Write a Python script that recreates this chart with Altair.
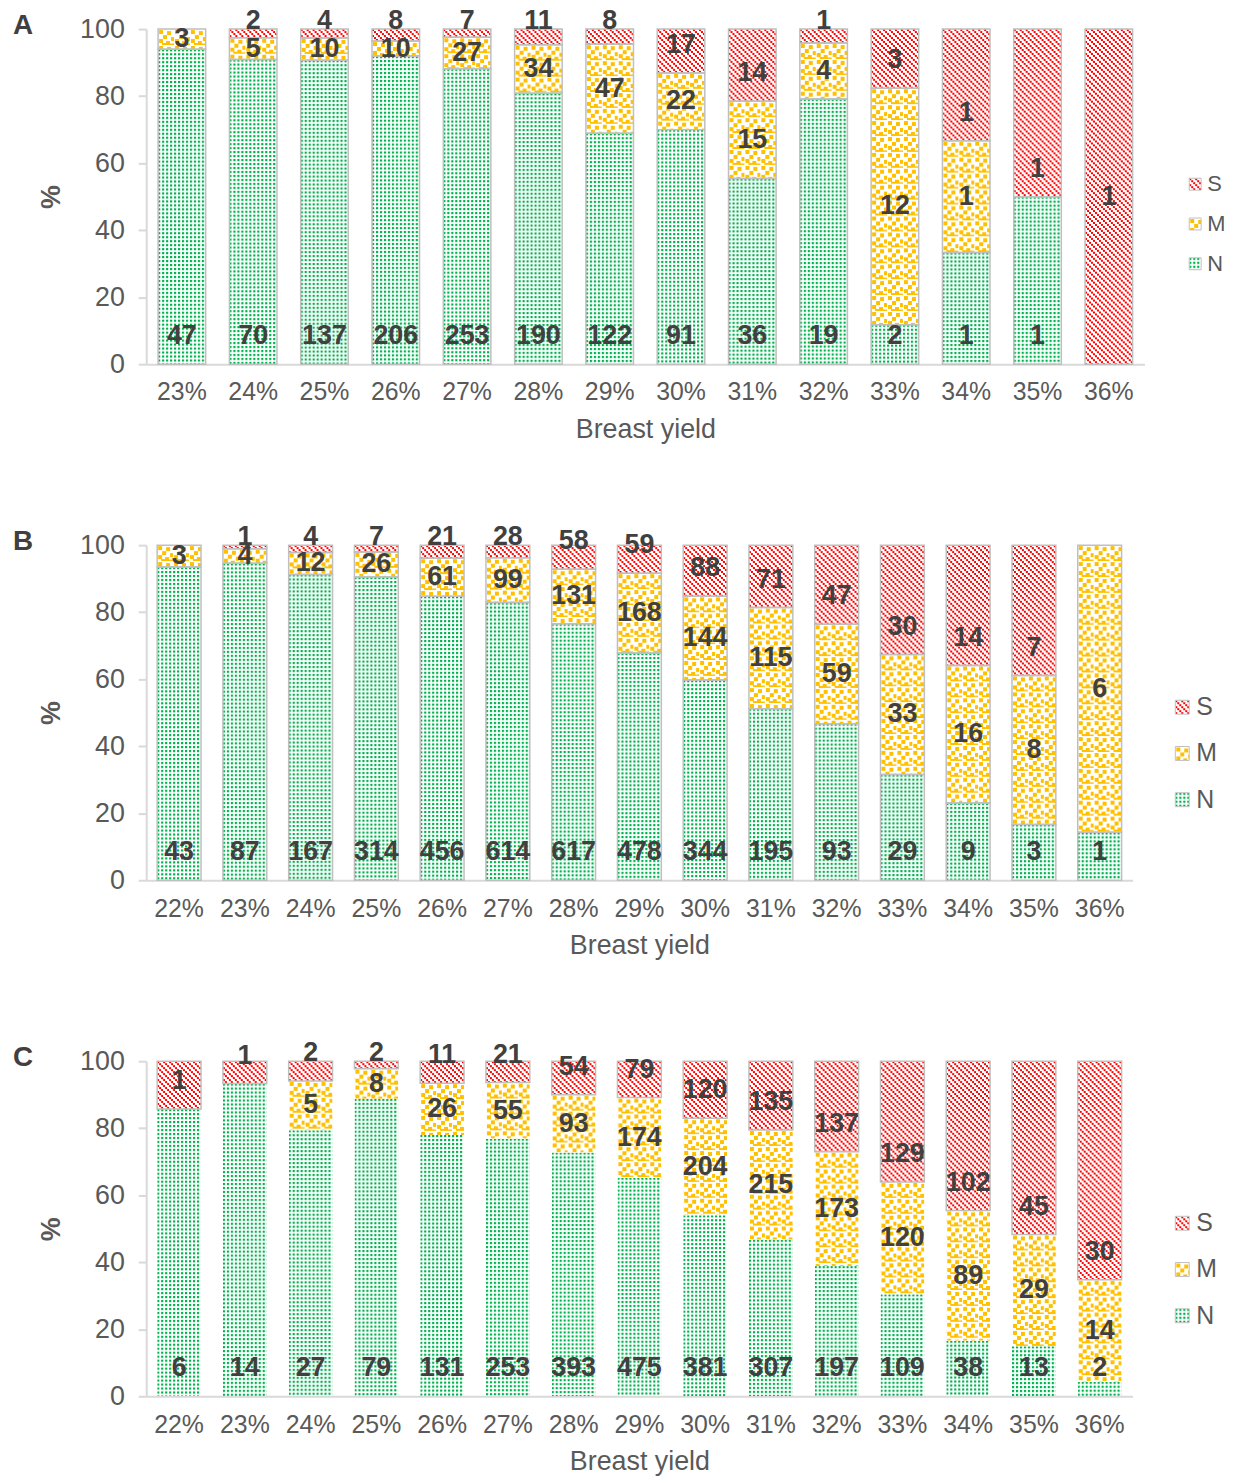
import altair as alt
import pandas as pd
from urllib.parse import quote

SERIES = ["N", "M", "S"]
LEGEND_ORDER = ["S", "M", "N"]

cats_A = ["23%", "24%", "25%", "26%", "27%", "28%", "29%", "30%", "31%", "32%", "33%", "34%", "35%", "36%"]
n_A = [47, 70, 137, 206, 253, 190, 122, 91, 36, 19, 2, 1, 1, 0]
m_A = [3, 5, 10, 10, 27, 34, 47, 22, 15, 4, 12, 1, 0, 0]
s_A = [0, 2, 4, 8, 7, 11, 8, 17, 14, 1, 3, 1, 1, 1]

cats_BC = ["22%", "23%", "24%", "25%", "26%", "27%", "28%", "29%", "30%", "31%", "32%", "33%", "34%", "35%", "36%"]
n_B = [43, 87, 167, 314, 456, 614, 617, 478, 344, 195, 93, 29, 9, 3, 1]
m_B = [3, 4, 12, 26, 61, 99, 131, 168, 144, 115, 59, 33, 16, 8, 6]
s_B = [0, 1, 4, 7, 21, 28, 58, 59, 88, 71, 47, 30, 14, 7, 0]

n_C = [6, 14, 27, 79, 131, 253, 393, 475, 381, 307, 197, 109, 38, 13, 2]
m_C = [0, 0, 5, 8, 26, 55, 93, 174, 204, 215, 173, 120, 89, 29, 14]
s_C = [1, 1, 2, 2, 11, 21, 54, 79, 120, 135, 137, 129, 102, 45, 30]


def svg_uri(w, h, body):
    svg = ("<svg xmlns='http://www.w3.org/2000/svg' width='100%' height='100%'>"
           f"<defs><pattern id='p' x='0' y='0' width='{w}' height='{h}' patternUnits='userSpaceOnUse'>{body}</pattern></defs>"
           "<rect x='0' y='0' width='100%' height='100%' fill='#ffffff'/>"
           "<rect x='0' y='0' width='100%' height='100%' fill='url(#p)'/></svg>")
    return "data:image/svg+xml," + quote(svg)


GREEN, GOLD, RED = "#00b050", "#ffc000", "#ff0000"
URIS = {
    "N": svg_uri(4, 4, f"<rect x='0' y='0' width='2.2' height='2.2' fill='{GREEN}'/>"),
    "M": svg_uri(16, 16, "".join(
        f"<rect x='{px}' y='{py}' width='4' height='4' fill='{GOLD}'/>"
        for px, py in [(1, 1), (9, 2), (5, 6), (13, 8), (1, 10), (8, 12), (12, 14.5), (4, 14)])),
    "S": svg_uri(6, 6, "".join(
        f"<rect x='{d}' y='{d}' width='2' height='2' fill='{RED}'/>" for d in (0, 2, 4))),
}

LABEL = "#404040"
AXIS_TXT = "#595959"
GRIDC = "#d9d9d9"


def panel_df(cats, n, m, s):
    rows = []
    for i, c in enumerate(cats):
        for order, (ser, vals) in enumerate(zip(SERIES, [n, m, s])):
            rows.append({"cat": c, "series": ser, "order": order, "count": vals[i]})
    return pd.DataFrame(rows)


def panel(letter, cats, n, m, s, width, border_series, leg_range, leg_x, leg_font, leg_sym, leg_gap):
    df = panel_df(cats, n, m, s)
    base = (alt.Chart(df)
            .transform_joinaggregate(total="sum(count)", groupby=["cat"])
            .transform_calculate(pct="100 * datum.count / datum.total")
            .transform_window(top="sum(pct)", sort=[alt.SortField("order", order="ascending")],
                              groupby=["cat"], frame=[None, 0])
            .transform_calculate(bottom="datum.top - datum.pct"))

    x = alt.X("cat:N", sort=cats,
              scale=alt.Scale(domain=cats, paddingInner=0.333, paddingOuter=0.1667),
              axis=alt.Axis(title="Breast yield", labelAngle=0, ticks=False, domainColor=GRIDC,
                            domainWidth=2, labelColor=AXIS_TXT, labelFontSize=25, labelPadding=16,
                            titleColor=AXIS_TXT, titleFontSize=27, titleFontWeight="normal",
                            titlePadding=12))
    yscale = alt.Scale(domain=[0, 100], nice=False)
    yaxis = alt.Axis(title="%", values=[0, 20, 40, 60, 80, 100], grid=False, domainColor=GRIDC,
                     domainWidth=2, tickColor=GRIDC, tickSize=8, tickWidth=2, labelColor=AXIS_TXT,
                     labelFontSize=27, labelPadding=14, titleColor=AXIS_TXT, titleFontSize=27,
                     titleFontWeight="bold", titlePadding=14)

    imgs = [base.transform_filter(alt.datum.series == ser)
            .mark_image(aspect=False, url=URIS[ser])
            .encode(x=x, y=alt.Y("top:Q", scale=yscale, axis=yaxis), y2="bottom:Q")
            for ser in SERIES]
    border = (base.transform_filter("datum.count > 0")
              .transform_filter(alt.FieldOneOfPredicate(field="series", oneOf=border_series))
              .mark_bar(fillOpacity=0, stroke="#bfbfbf", strokeWidth=1.5)
              .encode(x=x, y=alt.Y("top:Q", scale=yscale, axis=yaxis), y2="bottom:Q"))
    labels = (base.transform_filter("datum.count > 0")
              .transform_calculate(ly="datum.series === 'N' ? 8.3 : (datum.series === 'M' ? "
                                      "(datum.top + datum.bottom) / 2 : (datum.pct > 99.9 ? 50 : "
                                      "min(datum.bottom + 8.3, 102.5)))")
              .mark_text(fontSize=27, fontWeight="bold", color=LABEL, baseline="middle")
              .encode(x=x, y=alt.Y("ly:Q", scale=yscale, axis=yaxis), text="count:Q"))

    leg_df = pd.DataFrame({"series": LEGEND_ORDER})
    ly_enc = alt.Y("series:N",
                   scale=alt.Scale(type="point", domain=LEGEND_ORDER, range=leg_range, padding=0),
                   axis=None)
    leg_imgs = [alt.Chart(leg_df).transform_filter(alt.datum.series == ser)
                .mark_image(aspect=False, url=URIS[ser], width=leg_sym, height=leg_sym,
                            align="left", baseline="middle")
                .encode(x=alt.value(leg_x), y=ly_enc)
                for ser in LEGEND_ORDER]
    leg_sq = (alt.Chart(leg_df)
              .mark_square(filled=False, size=leg_sym * leg_sym, color="#bfbfbf", strokeWidth=1,
                           opacity=1)
              .encode(x=alt.value(leg_x + leg_sym / 2), y=ly_enc))
    leg_txt = (alt.Chart(leg_df)
               .mark_text(align="left", baseline="middle", fontSize=leg_font, color=AXIS_TXT)
               .encode(x=alt.value(leg_x + leg_gap), y=ly_enc, text="series:N"))
    legend = alt.layer(*leg_imgs, leg_sq, leg_txt)

    return (alt.layer(alt.layer(*imgs, border, labels), legend)
            .resolve_scale(x="independent", y="independent")
            .properties(width=width, height=337,
                        title=alt.TitleParams(letter, anchor="start", frame="group", dx=-134,
                                              dy=37, fontSize=28, fontWeight="bold",
                                              color=LABEL)))


pA = panel("A", cats_A, n_A, m_A, s_A, 1004, SERIES, [156, 236], 1049, 22, 12, 18)
pB = panel("B", cats_BC, n_B, m_B, s_B, 992, SERIES, [163, 256], 1035, 25, 14, 21)
pC = panel("C", cats_BC, n_C, m_C, s_C, 992, ["S"], [163, 256], 1035, 25, 14, 21)

chart = (alt.vconcat(pA, pB, pC, spacing=80)
         .properties(padding={"left": 5, "top": -6, "right": 5, "bottom": 5})
         .configure(font="Liberation Sans")
         .configure_view(stroke=None))

chart.save("out.html", embed_options={"renderer": "svg", "actions": False})
